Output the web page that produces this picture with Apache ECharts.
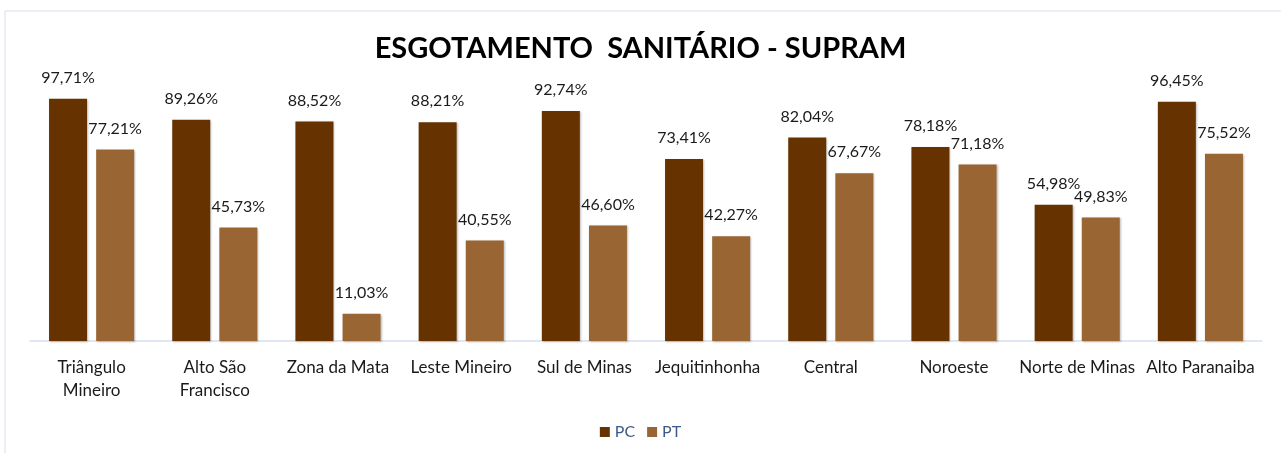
<!DOCTYPE html>
<html>
<head>
<meta charset="utf-8">
<script src="https://cdn.jsdelivr.net/npm/echarts@6/dist/echarts.min.js"></script>
<style>
  html, body { margin: 0; padding: 0; background: #fff; }
  #chart { width: 1281px; height: 453px; }
</style>
</head>
<body>
<div id="chart"></div>
<script>
// 数据
const categories = ['Triângulo\nMineiro', 'Alto São\nFrancisco', 'Zona da Mata', 'Leste Mineiro', 'Sul de Minas',
  'Jequitinhonha', 'Central', 'Noroeste', 'Norte de Minas', 'Alto Paranaiba'];
const valuesPC = [97.71, 89.26, 88.52, 88.21, 92.74, 73.41, 82.04, 78.18, 54.98, 96.45];
const valuesPT = [77.21, 45.73, 11.03, 40.55, 46.60, 42.27, 67.67, 71.18, 49.83, 75.52];

const FONT = 'Lato, "Liberation Sans", sans-serif';

// 格式化百分比（逗号小数）
function formatPct(v) {
  return v.toFixed(2).replace('.', ',') + '%';
}

function barSeries(name, data, color) {
  return {
    name: name,
    type: 'bar',
    data: data,
    barWidth: 38,
    barGap: '24%',
    itemStyle: {
      color: color,
      shadowColor: 'rgba(0,0,0,0.25)',
      shadowBlur: 2,
      shadowOffsetX: 1,
      shadowOffsetY: 1
    },
    label: {
      show: true,
      position: 'top',
      distance: 13,
      formatter: p => formatPct(p.value),
      color: '#1a1a1a',
      fontSize: 16,
      fontFamily: FONT
    }
  };
}

const chart = echarts.init(document.getElementById('chart'));
chart.setOption({
  backgroundColor: '#fff',
  animation: false,
  graphic: [{
    type: 'rect',
    shape: { x: 5, y: 11, width: 1290, height: 460 },
    style: { fill: 'none', stroke: '#d6e0ee', lineWidth: 1 }
  }],
  title: {
    text: 'ESGOTAMENTO  SANITÁRIO - SUPRAM',
    left: 'center',
    top: 29,
    textStyle: { fontFamily: FONT, fontWeight: 'bold', fontSize: 29, color: '#000' }
  },
  legend: {
    bottom: 8,
    left: 'center',
    itemWidth: 10,
    itemHeight: 10,
    itemGap: 12,
    icon: 'rect',
    textStyle: { fontFamily: FONT, fontSize: 16, color: '#3b5a8a' }
  },
  grid: { left: 30, right: 19, top: 93, bottom: 112 },
  xAxis: {
    type: 'category',
    data: categories,
    axisLine: { lineStyle: { color: '#d6e0ee', width: 1.5 } },
    axisTick: { show: false },
    axisLabel: {
      interval: 0,
      margin: 15,
      lineHeight: 23,
      fontFamily: FONT,
      fontSize: 17,
      color: '#1a1a1a'
    }
  },
  yAxis: {
    type: 'value',
    min: 0,
    max: 100,
    show: false
  },
  series: [
    barSeries('PC', valuesPC, '#663300'),
    barSeries('PT', valuesPT, '#996633')
  ]
});
</script>
</body>
</html>
